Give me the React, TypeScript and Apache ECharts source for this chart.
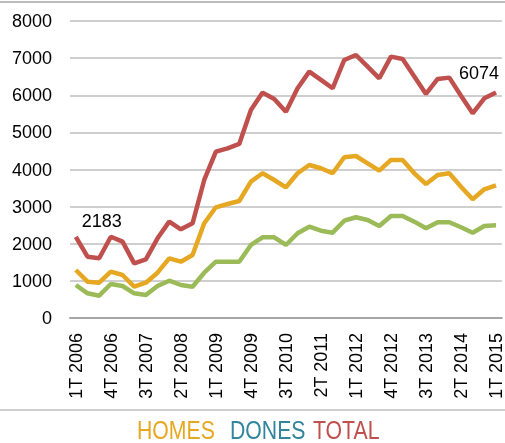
import React, { useEffect, useRef } from "react";
import * as echarts from "echarts";

const quarters = [
  "1T 2006", "2T 2006", "3T 2006", "4T 2006",
  "1T 2007", "2T 2007", "3T 2007", "4T 2007",
  "1T 2008", "2T 2008", "3T 2008", "4T 2008",
  "1T 2009", "2T 2009", "3T 2009", "4T 2009",
  "1T 2010", "2T 2010", "3T 2010", "4T 2010",
  "1T 2011", "2T 2011", "3T 2011", "4T 2011",
  "1T 2012", "2T 2012", "3T 2012", "4T 2012",
  "1T 2013", "2T 2013", "3T 2013", "4T 2013",
  "1T 2014", "2T 2014", "3T 2014", "4T 2014",
  "1T 2015",
];

const homes = [
  1293, 978, 951, 1247, 1158, 843, 951, 1220, 1608, 1517, 1697, 2551,
  2982, 3071, 3152, 3672, 3898, 3718, 3521, 3898, 4122, 4033, 3898, 4329,
  4364, 4167, 3968, 4257, 4257, 3898, 3610, 3852, 3898, 3537, 3198, 3467,
  3575,
];

const dones = [
  890, 665, 601, 916, 862, 665, 620, 862, 1005, 889, 843, 1220,
  1517, 1517, 1517, 1967, 2174, 2174, 1967, 2282, 2460, 2352, 2298, 2621,
  2713, 2640, 2478, 2748, 2748, 2595, 2416, 2578, 2578, 2443, 2298, 2478,
  2499,
];

const total = [
  2183, 1651, 1608, 2190, 2056, 1473, 1581, 2147, 2595, 2389, 2551, 3718,
  4480, 4571, 4688, 5604, 6071, 5900, 5558, 6188, 6636, 6412, 6188, 6950,
  7085, 6771, 6457, 7040, 6977, 6502, 6035, 6439, 6475, 5989, 5514, 5918,
  6074,
];

const yTicks = { min: 0, max: 8000, interval: 1000 };

const legendNames = ["HOMES", "DONES", "TOTAL"];

const RED = "#C0504D";
const ORANGE = "#E6A823";
const GREEN = "#9BBB59";
const TEAL = "#31859C";

export default function App() {
  const ref = useRef<HTMLDivElement>(null);

  useEffect(() => {
    if (!ref.current) return;
    const chart = echarts.init(ref.current, undefined, { renderer: "svg" });
    const last = total.length - 1;
    const totalData = total.map((v, i) => {
      if (i === 0) {
        return {
          value: v,
          label: { show: true, position: "top", offset: [26, -2] },
        };
      }
      if (i === last) {
        return {
          value: v,
          label: { show: true, position: "top", offset: [-17, -6] },
        };
      }
      return v;
    });

    const legendColors = [ORANGE, TEAL, RED];
    const legendX = [137, 230, 313];
    const legendTexts = legendNames.map((name, i) => ({
      type: "text",
      x: legendX[i],
      y: 430,
      scaleX: 0.85,
      silent: true,
      style: {
        text: name,
        fill: legendColors[i],
        fontSize: 25,
        fontFamily: "'Liberation Sans', Arial, sans-serif",
        align: "left",
        verticalAlign: "middle",
      },
    }));

    chart.setOption({
      animation: false,
      textStyle: { fontFamily: "'Liberation Sans', Arial, sans-serif" },
      grid: { left: 70, right: 3, top: 21, bottom: 125, containLabel: false },
      xAxis: {
        type: "category",
        data: quarters,
        boundaryGap: true,
        axisLine: { lineStyle: { color: "#A6A6A6", width: 2 } },
        axisTick: { show: false },
        axisLabel: {
          interval: 2,
          rotate: 90,
          fontSize: 18,
          color: "#000",
          margin: 15,
        },
      },
      yAxis: {
        type: "value",
        min: yTicks.min,
        max: yTicks.max,
        interval: yTicks.interval,
        axisLine: { show: false },
        axisTick: { show: false },
        axisLabel: {
          fontSize: 18,
          color: "#000",
          margin: 18,
          formatter: (v: number) => String(v),
        },
        splitLine: { lineStyle: { color: "#BFBFBF", width: 1.5 } },
      },
      graphic: [
        {
          type: "line",
          shape: { x1: 0, y1: 2, x2: 505, y2: 2 },
          style: { stroke: "#A6A6A6", lineWidth: 1.5 },
        },
        {
          type: "line",
          shape: { x1: 0, y1: 410, x2: 505, y2: 410 },
          style: { stroke: "#BFBFBF", lineWidth: 1.5 },
        },
        ...legendTexts,
      ],
      series: [
        {
          name: "HOMES",
          type: "line",
          data: homes,
          symbol: "none",
          lineStyle: { color: ORANGE, width: 4.5 },
          itemStyle: { color: ORANGE },
          z: 3,
        },
        {
          name: "DONES",
          type: "line",
          data: dones,
          symbol: "none",
          lineStyle: { color: GREEN, width: 4.5 },
          itemStyle: { color: GREEN },
          z: 3,
        },
        {
          name: "TOTAL",
          type: "line",
          data: totalData,
          symbol: "circle",
          symbolSize: 0,
          showSymbol: true,
          lineStyle: { color: RED, width: 4.5 },
          itemStyle: { color: RED },
          label: { fontSize: 18, color: "#000", distance: 5 },
          z: 4,
        },
      ],
    });
    return () => chart.dispose();
  }, []);

  return (
    <div
      ref={ref}
      style={{ position: "fixed", left: 0, top: 0, width: 505, height: 443 }}
    />
  );
}
